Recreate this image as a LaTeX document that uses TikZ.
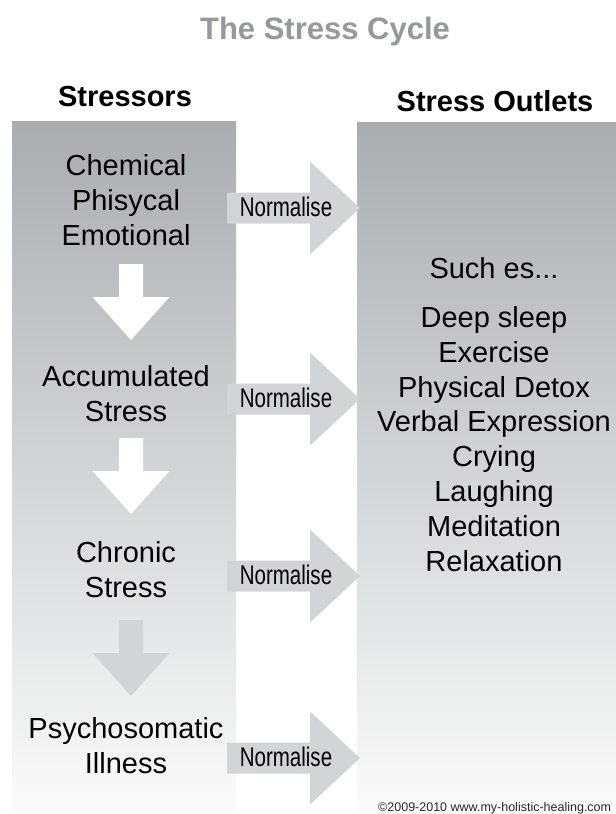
\documentclass[tikz,border=0pt]{standalone}
\usepackage{fontspec}
\setmainfont{Liberation Sans}
\newfontfamily\narrowfont[FakeStretch=0.76]{Liberation Sans}
\begin{document}
\begin{tikzpicture}[x=1bp,y=-1bp]
\definecolor{paneltop}{RGB}{170,173,176}
\definecolor{panelbot}{RGB}{251,251,251}
\definecolor{arrowgray}{RGB}{211,212,214}
\definecolor{titlegray}{RGB}{150,152,155}
\definecolor{smallgray}{RGB}{40,40,40}
\tikzset{
  body/.style={font=\fontsize{29bp}{35bp}\selectfont, anchor=base, inner sep=0pt},
  heading/.style={font=\bfseries\fontsize{29bp}{35bp}\selectfont, anchor=base, inner sep=0pt},
  normlabel/.style={font=\narrowfont\fontsize{27bp}{32bp}\selectfont, anchor=base, inner sep=0pt},
  panel/.style={top color=paneltop, bottom color=panelbot, draw=none},
  pics/normarrow/.style={code={
    \fill[arrowgray] (-83,-15.5) -- (0,-15.5) -- (0,-46.5) -- (50,0)
      -- (0,46.5) -- (0,15.5) -- (-83,15.5) -- cycle;}},
  pics/downarrow/.style={code={
    \fill[#1] (-12,0) -- (12,0) -- (12,33) -- (38.5,33) -- (0,76)
      -- (-38.5,33) -- (-12,33) -- cycle;}},
}
% canvas
\fill[white] (0,0) rectangle (616,814);
\useasboundingbox (0,0) rectangle (616,814);

% title and column headings
\node[heading, font=\bfseries\fontsize{31bp}{36bp}\selectfont, text=titlegray] (title) at (325,40) {The Stress Cycle};
\node[heading] (stressors) at (125,106) {Stressors};
\node[heading] (outlets) at (495,111) {Stress Outlets};

% the two shaded columns
\shade[panel] (12,121) rectangle (236,814);
\shade[panel] (357,122) rectangle (616,814);

% downward steps between stressor stages
\pic at (131,264) {downarrow=white};
\pic at (131,438) {downarrow=white};
\pic at (131,620) {downarrow=arrowgray};

% normalise arrows towards the outlets
\pic at (310,208) {normarrow};
\pic at (310,399) {normarrow};
\pic at (310,576) {normarrow};
\pic at (310,758) {normarrow};
\node[normlabel] (n1) at (286,216) {Normalise};
\node[normlabel] (n2) at (286,407) {Normalise};
\node[normlabel] (n3) at (286,584) {Normalise};
\node[normlabel] (n4) at (286,766) {Normalise};

% stressor stages
\node[body] (c1) at (126,175) {Chemical};
\node[body] (c2) at (126,210) {Phisycal};
\node[body] (c3) at (126,245) {Emotional};
\node[body] (a1) at (126,386) {Accumulated};
\node[body] (a2) at (126,421) {Stress};
\node[body] (h1) at (126,562) {Chronic};
\node[body] (h2) at (126,597) {Stress};
\node[body] (p1) at (126,738) {Psychosomatic};
\node[body] (p2) at (126,773) {Illness};

% outlets
\node[body] (such) at (494,278) {Such es...};
\node[body] (o1) at (494,327) {Deep sleep};
\node[body] (o2) at (494,362) {Exercise};
\node[body] (o3) at (494,397) {Physical Detox};
\node[body] (o4) at (494,431) {Verbal Expression};
\node[body] (o5) at (494,466) {Crying};
\node[body] (o6) at (494,501) {Laughing};
\node[body] (o7) at (494,536) {Meditation};
\node[body] (o8) at (494,571) {Relaxation};

% footer
\node[anchor=base west, inner sep=0pt, text=smallgray, font=\fontsize{12.5bp}{15bp}\selectfont] (copy) at (378,811) {©2009-2010 www.my-holistic-healing.com};
\end{tikzpicture}
\end{document}
